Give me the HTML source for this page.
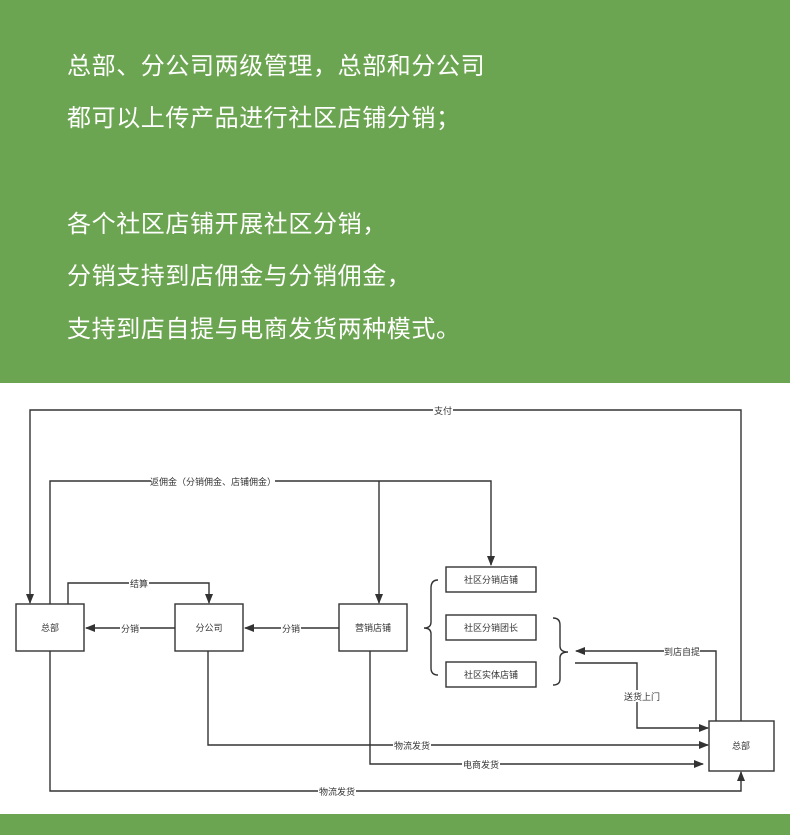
<!DOCTYPE html>
<html><head><meta charset="utf-8"><style>
body{margin:0;width:790px;height:835px;overflow:hidden;background:#fff;font-family:"Liberation Sans","Noto Sans CJK SC",sans-serif}
.hd{position:absolute;left:0;top:0;width:790px;height:383px;background:#6ca551}
.hd div{position:absolute;left:67px;color:#fff;font-size:24px;line-height:30px;white-space:nowrap;letter-spacing:0.6px}
.ft{position:absolute;left:0;top:814px;width:790px;height:21px;background:#6ca551}
svg{position:absolute;left:0;top:0}
</style></head><body>
<div class="hd">
<div style="top:52px">总部、分公司两级管理，总部和分公司</div>
<div style="top:104px">都可以上传产品进行社区店铺分销；</div>
<div style="top:210px">各个社区店铺开展社区分销，</div>
<div style="top:262px">分销支持到店佣金与分销佣金，</div>
<div style="top:315px">支持到店自提与电商发货两种模式。</div>
</div>
<div class="ft"></div>
<svg width="790" height="835" viewBox="0 0 790 835">
<defs><marker id="a" markerWidth="10" markerHeight="8" refX="9" refY="4" orient="auto" markerUnits="userSpaceOnUse"><path d="M0,0 L10,4 L0,8z" fill="#333"/></marker></defs>
<g fill="none" stroke="#333" stroke-width="1.4">
<polyline points="741,721 741,410 30,410 30,603" marker-end="url(#a)"/>
<polyline points="50,604 50,481 491,481 491,565" marker-end="url(#a)"/>
<polyline points="379,481 379,603" marker-end="url(#a)"/>
<polyline points="68,604 68,583 209,583 209,603" marker-end="url(#a)"/>
<polyline points="175,628 86,628" marker-end="url(#a)"/>
<polyline points="339,628 245,628" marker-end="url(#a)"/>
<polyline points="716,721 716,651 576,651" marker-end="url(#a)"/>
<polyline points="575,663 637,663 637,728 708,728" marker-end="url(#a)"/>
<polyline points="208,651 208,745 708,745" marker-end="url(#a)"/>
<polyline points="370,651 370,764 703,764" marker-end="url(#a)"/>
<polyline points="50,651 50,791 741,791 741,772" marker-end="url(#a)"/>
<path d="M438,580 Q431,580 431,588 L431,622 Q431,628 424,628 Q431,628 431,634 L431,668 Q431,675 438,675"/>
<path d="M553,618 Q560,618 560,625 L560,646 Q560,652 568,652 Q560,652 560,658 L560,679 Q560,685 553,685"/>
<rect x="16" y="604" width="68" height="47"/>
<rect x="175" y="604" width="68" height="47"/>
<rect x="339" y="604" width="68" height="47"/>
<rect x="709" y="721" width="65" height="50"/>
<rect x="446" y="567" width="90" height="25"/>
<rect x="446" y="615" width="90" height="25"/>
<rect x="446" y="662" width="90" height="25"/>
</g>
<g fill="#fff">
<rect x="433" y="404" width="20" height="12"/>
<rect x="151" y="475" width="124" height="12"/>
<rect x="129" y="577" width="20" height="12"/>
<rect x="120" y="622" width="20" height="12"/>
<rect x="281" y="622" width="20" height="12"/>
<rect x="664" y="645" width="36" height="12"/>
<rect x="623" y="690" width="38" height="12"/>
<rect x="393" y="739" width="38" height="12"/>
<rect x="462" y="758" width="38" height="12"/>
<rect x="318" y="785" width="38" height="12"/>
</g>
<g font-family="'Liberation Sans','Noto Sans CJK SC',sans-serif" font-size="9" fill="#333" text-anchor="middle">
<text x="443" y="414">支付</text>
<text x="213" y="485">返佣金（分销佣金、店铺佣金）</text>
<text x="139" y="587">结算</text>
<text x="130" y="632">分销</text>
<text x="291" y="632">分销</text>
<text x="682" y="655">到店自提</text>
<text x="642" y="700">送货上门</text>
<text x="412" y="749">物流发货</text>
<text x="481" y="768">电商发货</text>
<text x="337" y="795">物流发货</text>
<text x="50" y="631">总部</text>
<text x="209" y="631">分公司</text>
<text x="373" y="631">营销店铺</text>
<text x="741" y="749">总部</text>
<text x="491" y="583">社区分销店铺</text>
<text x="491" y="631">社区分销团长</text>
<text x="491" y="678">社区实体店铺</text>
</g>
</svg>
</body></html>
